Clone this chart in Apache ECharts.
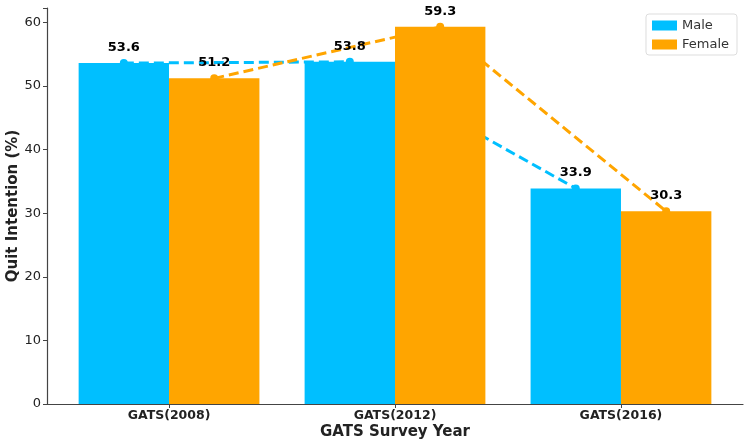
<!DOCTYPE html>
<html style='height: 100%'>
<head>
    <meta charset='utf-8'>
</head>
<body style='height: 100%; margin: 0'>
    <div id='container' style='width: 750px; height: 446px'></div>
    <script type='text/javascript' src='https://cdn.jsdelivr.net/npm/echarts@6/dist/echarts.min.js'></script>
    <script type="text/javascript">

var categories = ['GATS(2008)', 'GATS(2012)', 'GATS(2016)'];
var maleValues = [53.6, 53.8, 33.9];
var femaleValues = [51.2, 59.3, 30.3];
var yTicks = [0, 10, 20, 30, 40, 50, 60];

var dom = document.getElementById("container");
var myChart = echarts.init(dom);

// matplotlib style: bars 0.4 wide at i-0.2 / i+0.2, axis padded 5%
var xMin = -0.54, xMax = 2.54;
var gridLeft = 47, gridRight = 7;
var pxPerUnit = (750 - gridLeft - gridRight) / (xMax - xMin);
var barW = 0.4 * pxPerUnit;

var malePts = maleValues.map(function (v, i) { return [i - 0.2, v]; });
var femalePts = femaleValues.map(function (v, i) { return [i + 0.2, v]; });
var tickIdx = categories.map(function (c, i) { return i; });

var labelStyle = {
    show: true,
    position: 'top',
    distance: 5,
    color: '#000',
    fontWeight: 'bold',
    fontSize: 13,
    fontFamily: 'DejaVu Sans'
};

option = {
    animation: false,
    textStyle: { fontFamily: 'DejaVu Sans' },
    grid: { left: gridLeft, right: gridRight, top: 8, bottom: 42, outerBoundsMode: 'none', containLabel: false },
    legend: {
        right: 13,
        top: 14,
        orient: 'vertical',
        itemWidth: 25,
        itemHeight: 10,
        itemGap: 6,
        padding: [5, 8, 4, 6],
        borderColor: '#ddd',
        borderWidth: 1,
        borderRadius: 3,
        textStyle: { fontSize: 13, color: '#333' },
        data: [
            { name: 'Male', icon: 'rect' },
            { name: 'Female', icon: 'rect' }
        ]
    },
    xAxis: {
        type: 'value',
        min: xMin,
        max: xMax,
        name: 'GATS Survey Year',
        nameLocation: 'middle',
        nameGap: 21,
        nameMoveOverlap: false,
        nameTextStyle: { fontSize: 15, fontWeight: 'bold', color: '#222' },
        splitLine: { show: false },
        axisLine: { show: true, onZero: false, lineStyle: { color: '#444', width: 1.2 } },
        axisTick: { show: true, customValues: tickIdx, length: 4, lineStyle: { color: '#444' } },
        axisLabel: {
            customValues: tickIdx,
            formatter: function (v) { return categories[Math.round(v)]; },
            fontSize: 12.5,
            fontWeight: 'bold',
            color: '#222',
            margin: 5
        }
    },
    yAxis: {
        type: 'value',
        min: 0,
        max: 62.265,
        interval: 10,
        name: 'Quit Intention (%)',
        nameLocation: 'middle',
        nameGap: 26,
        nameMoveOverlap: false,
        nameTextStyle: { fontSize: 15, fontWeight: 'bold', color: '#222' },
        splitLine: { show: false },
        axisLine: { show: true, onZero: false, lineStyle: { color: '#444', width: 1.2 } },
        axisTick: { show: true, length: 4, lineStyle: { color: '#444' } },
        axisLabel: {
            customValues: yTicks,
            fontSize: 13,
            color: '#222',
            margin: 6
        }
    },
    series: [
        {
            name: 'Male',
            type: 'bar',
            data: malePts,
            barWidth: barW,
            barGap: '-100%',
            itemStyle: { color: '#00BFFF' },
            z: 3
        },
        {
            name: 'Female',
            type: 'bar',
            data: femalePts,
            barWidth: barW,
            barGap: '-100%',
            itemStyle: { color: '#FFA500' },
            z: 3
        },
        {
            name: 'Male',
            type: 'line',
            data: malePts,
            symbol: 'circle',
            symbolSize: 8,
            lineStyle: { color: '#00BFFF', width: 3, type: [10, 5] },
            itemStyle: { color: '#00BFFF' },
            label: labelStyle,
            z: 1
        },
        {
            name: 'Female',
            type: 'line',
            data: femalePts,
            symbol: 'circle',
            symbolSize: 8,
            lineStyle: { color: '#FFA500', width: 3, type: [10, 5] },
            itemStyle: { color: '#FFA500' },
            label: labelStyle,
            z: 1
        }
    ]
};

if (option && typeof option === "object") {
    myChart.setOption(option, true);
}
       </script>
   </body>
</html>
